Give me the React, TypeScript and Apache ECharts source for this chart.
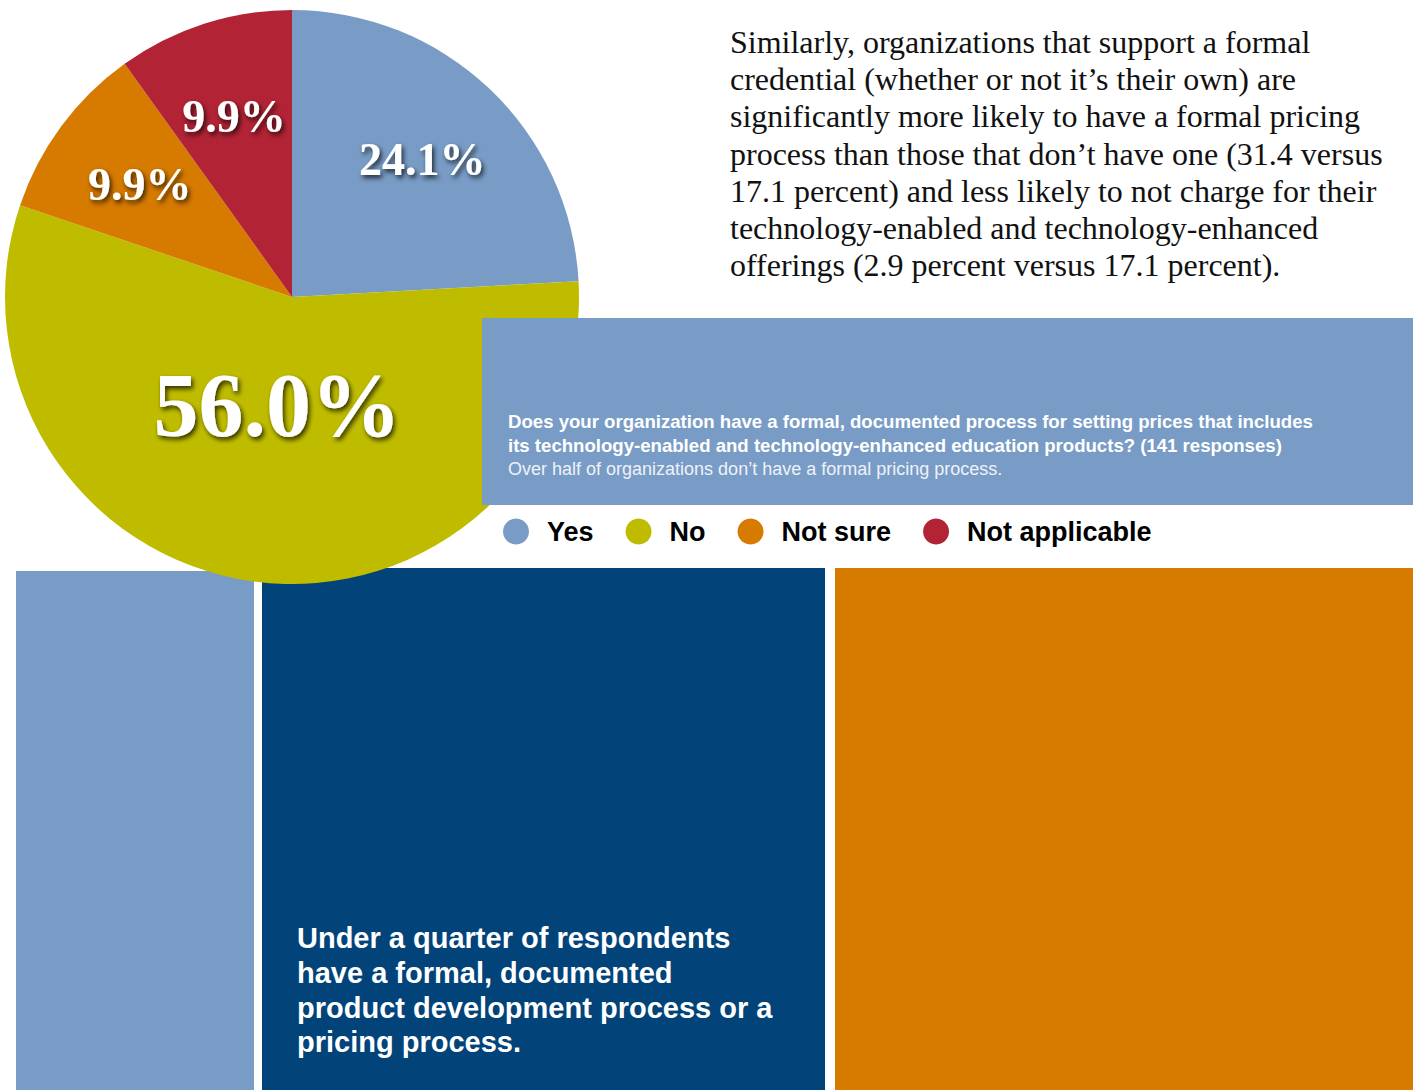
import React, { useEffect, useRef } from "react";
import * as echarts from "echarts";

const categories = ["Yes", "No", "Not sure", "Not applicable"];
const values = [24.1, 56.0, 9.9, 9.9];
const colors = ["#789CC6", "#BFBC00", "#D67A00", "#B22335"];

const bodyLines = [
  "Similarly, organizations that support a formal",
  "credential (whether or not it\u2019s their own) are",
  "significantly more likely to have a formal pricing",
  "process than those that don\u2019t have one (31.4 versus",
  "17.1 percent) and less likely to not charge for their",
  "technology-enabled and technology-enhanced",
  "offerings (2.9 percent versus 17.1 percent).",
];
const questionLines = [
  "Does your organization have a formal, documented process for setting prices that includes",
  "its technology-enabled and technology-enhanced education products? (141 responses)",
];
const subtitle = "Over half of organizations don\u2019t have a formal pricing process.";
const calloutLines = [
  "Under a quarter of respondents",
  "have a formal, documented",
  "product development process or a",
  "pricing process.",
];

const CX = 292;
const CY = 297;
const R = 287;

export default function App() {
  const ref = useRef<HTMLDivElement>(null);
  useEffect(() => {
    if (!ref.current) return;
    const chart = echarts.init(ref.current, undefined, { renderer: "svg" });
    const radialFactor = [0.66, 0.38, 0.66, 0.66];
    chart.setOption({
      animation: false,
      legend: {
        data: categories,
        left: 498,
        top: 513,
        icon: "circle",
        itemWidth: 26,
        itemHeight: 26,
        itemGap: 32,
        textStyle: {
          fontFamily: "Liberation Sans",
          fontWeight: "bold",
          fontSize: 27,
          color: "#000",
          padding: [0, 0, 0, 13],
        },
      },
      graphic: [
        { type: "rect", z: 0, shape: { x: 16, y: 571, width: 238, height: 519 }, style: { fill: "#789CC6" } },
        { type: "rect", z: 0, shape: { x: 262, y: 568, width: 563, height: 522 }, style: { fill: "#02447A" } },
        { type: "rect", z: 0, shape: { x: 835, y: 568, width: 578, height: 522 }, style: { fill: "#D67A00" } },
        {
          type: "text",
          z: 1,
          x: 297,
          y: 921,
          style: {
            text: calloutLines.join("\n"),
            font: 'bold 29px "Liberation Sans"',
            lineHeight: 34.7,
            fill: "#fff",
          },
        },
        {
          type: "text",
          z: 1,
          x: 730,
          y: 23,
          style: {
            text: bodyLines.join("\n"),
            font: '32px "Liberation Serif"',
            lineHeight: 37.3,
            fill: "#111",
          },
        },
        { type: "rect", z: 100, shape: { x: 482, y: 318, width: 931, height: 187 }, style: { fill: "#789CC6" } },
        {
          type: "text",
          z: 101,
          x: 508,
          y: 409,
          style: {
            text: questionLines.join("\n"),
            font: 'bold 18.6px "Liberation Sans"',
            lineHeight: 24,
            fill: "#fff",
          },
        },
        {
          type: "text",
          z: 101,
          x: 508,
          y: 457,
          style: {
            text: subtitle,
            font: '18px "Liberation Sans"',
            lineHeight: 24,
            fill: "#EEF2F8",
          },
        },
      ],
      series: [
        {
          type: "pie",
          z: 2,
          center: [CX, CY],
          radius: R,
          startAngle: 90,
          clockwise: true,
          silent: true,
          data: categories.map((name, i) => ({
            name,
            value: values[i],
            itemStyle: { color: colors[i] },
            label: { fontSize: i === 1 ? 90 : 46 },
          })),
          label: {
            show: true,
            position: "inside",
            formatter: (p: any) => p.value.toFixed(1) + "%",
            fontFamily: "Liberation Serif",
            fontWeight: "bold",
            color: "#fff",
            textShadowColor: "rgba(0,0,0,0.75)",
            textShadowBlur: 5,
            textShadowOffsetX: 2,
            textShadowOffsetY: 3,
          },
          labelLine: { show: false },
          labelLayout: (params: any) => {
            const r = params.labelRect;
            const lx = r.x + r.width / 2;
            const ly = r.y + r.height / 2;
            const dx = lx - CX;
            const dy = ly - CY;
            const d = Math.sqrt(dx * dx + dy * dy) || 1;
            const f = (radialFactor[params.dataIndex] * R) / d;
            return { x: CX + dx * f, y: CY + dy * f };
          },
        },
      ],
    });
    return () => chart.dispose();
  }, []);
  return (
    <div
      ref={ref}
      style={{ position: "fixed", left: 0, top: 0, width: 1420, height: 1090, background: "#fff" }}
    />
  );
}
